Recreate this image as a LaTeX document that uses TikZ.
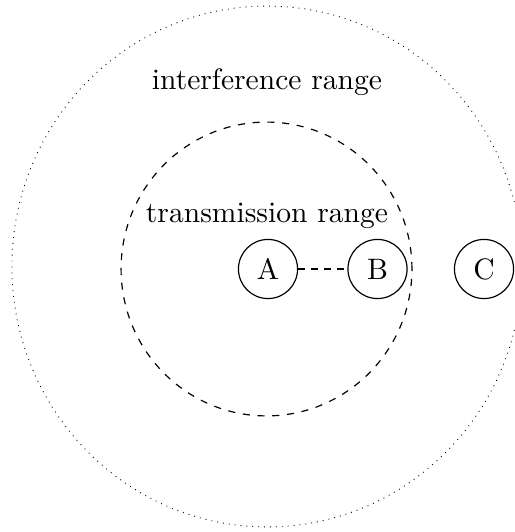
\documentclass[tikz,border=0pt]{standalone}
\begin{document}
\begin{tikzpicture}[x=0.3383pt,y=-0.3383pt,
  station/.style={circle,draw,minimum size=20pt,inner sep=0pt},
  rangelabel/.style={anchor=base,inner sep=0pt}]
\useasboundingbox (0,0) rectangle (515,532);
\clip (0,0) rectangle (515,532);
\draw[line width=0.3pt,dash pattern=on 0.3pt off 1.7pt] (267,266.5) ellipse [x radius=86.3pt,y radius=88.1pt];
\draw[dash pattern=on 2.4pt off 2.6pt] (266.5,269) ellipse [x radius=49.2pt,y radius=49.7pt];
\node[station] (A) at (268,269) {A};
\node[station] (B) at (377.5,269) {B};
\node[station] (C) at (484,269) {C};
\draw[dash pattern=on 2.2pt off 2.2pt] (A) -- (B);
\node[rangelabel] (ir) at (267,90) {interference range};
\node[rangelabel] (tr) at (267,223) {transmission range};
\end{tikzpicture}
\end{document}
